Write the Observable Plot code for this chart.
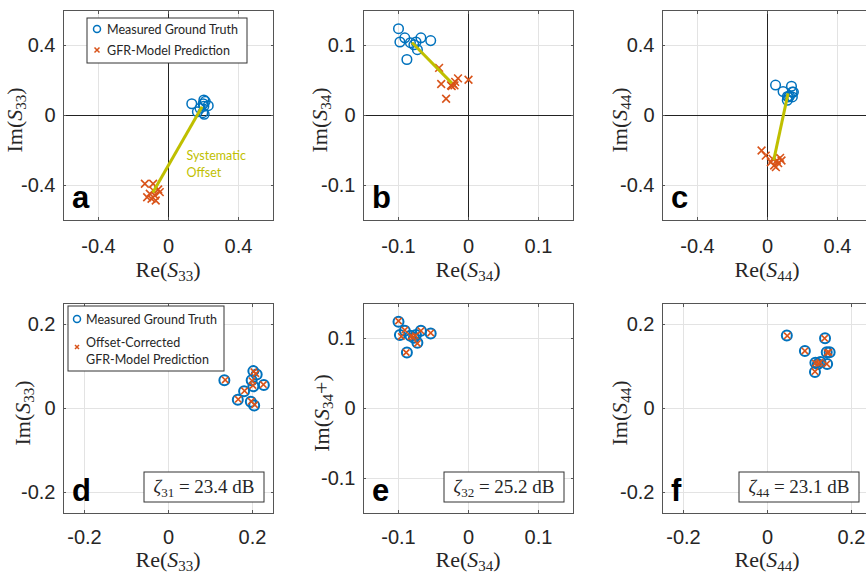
<!DOCTYPE html>
<html><head><meta charset="utf-8">
<script src="https://cdn.jsdelivr.net/npm/d3@7"></script>
<script src="https://cdn.jsdelivr.net/npm/@observablehq/plot@0.6"></script>
<style>
body{margin:0;background:#fff;overflow:hidden}
#fig{position:relative;width:866px;height:575px;overflow:hidden;background:#fff}
#fig svg{position:absolute;overflow:visible}
</style></head><body><div id="fig"></div>
<script>
// ---------- data ----------
// S33
const s33MeasRe = [0.133, 0.202, 0.210, 0.198, 0.202, 0.227, 0.180, 0.165, 0.196, 0.204];
const s33MeasIm = [0.067, 0.089, 0.081, 0.067, 0.053, 0.056, 0.041, 0.021, 0.016, 0.007];
const s33PredRe = [-0.135, -0.088, -0.059, -0.107, -0.078, -0.097, -0.050, -0.073, -0.122, -0.086];
const s33PredIm = [-0.390, -0.390, -0.423, -0.447, -0.457, -0.476, -0.438, -0.486, -0.467, -0.429];
const s33CorrRe = [0.135, 0.203, 0.208, 0.199, 0.201, 0.226, 0.181, 0.166, 0.197, 0.205];
const s33CorrIm = [0.068, 0.088, 0.083, 0.066, 0.055, 0.057, 0.042, 0.022, 0.017, 0.009];
// S34
const s34MeasRe = [-0.100, -0.098, -0.091, -0.083, -0.078, -0.073, -0.075, -0.068, -0.054, -0.088];
const s34MeasIm = [0.124, 0.105, 0.111, 0.104, 0.101, 0.094, 0.105, 0.111, 0.107, 0.080];
const s34PredRe = [-0.042, -0.039, -0.032, -0.025, -0.022, -0.019, -0.015, 0.000, -0.024, -0.020];
const s34PredIm = [0.068, 0.045, 0.024, 0.043, 0.045, 0.048, 0.053, 0.051, 0.042, 0.043];
const s34CorrRe = [-0.100, -0.096, -0.091, -0.082, -0.079, -0.073, -0.076, -0.068, -0.054, -0.089];
const s34CorrIm = [0.125, 0.103, 0.112, 0.103, 0.102, 0.093, 0.104, 0.111, 0.108, 0.080];
// S44
const s44MeasRe = [0.046, 0.137, 0.089, 0.141, 0.148, 0.114, 0.126, 0.142, 0.113, 0.120];
const s44MeasIm = [0.174, 0.167, 0.137, 0.134, 0.134, 0.109, 0.111, 0.106, 0.087, 0.106];
const s44PredRe = [-0.034, -0.010, 0.029, 0.038, 0.053, 0.072, 0.048, 0.061, 0.019, 0.080];
const s44PredIm = [-0.200, -0.229, -0.248, -0.286, -0.257, -0.242, -0.295, -0.272, -0.267, -0.257];
const s44CorrRe = [0.047, 0.136, 0.089, 0.142, 0.146, 0.114, 0.125, 0.141, 0.113, 0.121];
const s44CorrIm = [0.173, 0.167, 0.137, 0.133, 0.134, 0.108, 0.110, 0.106, 0.088, 0.107];

const topTicksWide = [-0.4, 0, 0.4];
const ticksNarrow = [-0.1, 0, 0.1];
const bottomTicksWide = [-0.2, 0, 0.2];
const zetaSubs = ["31", "32", "44"];
const zetaValues = ["23.4", "25.2", "23.1"];
const legendTop = ["Measured Ground Truth", "GFR-Model Prediction"];
const legendBottom = ["Measured Ground Truth", "Offset-Corrected", "GFR-Model Prediction"];
const offsetLabel = [{re: 0.103, im: -0.19, text: "Systematic\nOffset"}];

// ---------- styling ----------
const blue = "#0072BD", orange = "#D95319", olive = "#BFBF00";
const frameColor = "#555", gridColor = "#e3e3e3", textColor = "#262626";
const zip = (re, im) => re.map((r, i) => ({re: r, im: im[i]}));
const fmt = d => d === 0 ? "0" : String(d);

const panels = [
  {letter: "a", col: 0, row: 0, half: 0.6, ticks: topTicksWide, meas: zip(s33MeasRe, s33MeasIm), pred: zip(s33PredRe, s33PredIm), xl: ["Re(", "33", ")"], yl: ["Im(", "33", ")"], yOff: 41, legend: true, note: true},
  {letter: "b", col: 1, row: 0, half: 0.15, ticks: ticksNarrow, meas: zip(s34MeasRe, s34MeasIm), pred: zip(s34PredRe, s34PredIm), xl: ["Re(", "34", ")"], yl: ["Im(", "34", ")"], yOff: 36},
  {letter: "c", col: 2, row: 0, half: 0.6, ticks: topTicksWide, meas: zip(s44MeasRe, s44MeasIm), pred: zip(s44PredRe, s44PredIm), xl: ["Re(", "44", ")"], yl: ["Im(", "44", ")"], yOff: 35},
  {letter: "d", col: 0, row: 1, half: 0.25, ticks: bottomTicksWide, meas: zip(s33MeasRe, s33MeasIm), pred: zip(s33CorrRe, s33CorrIm), xl: ["Re(", "33", ")"], yl: ["Im(", "33", ")"], yOff: 33, legend: true, zeta: 0, boxR: 9},
  {letter: "e", col: 1, row: 1, half: 0.15, ticks: ticksNarrow, meas: zip(s34MeasRe, s34MeasIm), pred: zip(s34CorrRe, s34CorrIm), xl: ["Re(", "34", ")"], yl: ["Im(", "34", "+)"], yOff: 34, zeta: 1, boxR: 9},
  {letter: "f", col: 2, row: 1, half: 0.25, ticks: bottomTicksWide, meas: zip(s44MeasRe, s44MeasIm), pred: zip(s44CorrRe, s44CorrIm), xl: ["Re(", "44", ")"], yl: ["Im(", "44", ")"], yOff: 35, zeta: 2, boxR: 13}
];

const fig = d3.select("#fig");
const ML = 63, PW = 210;

function addMathLabel(g, parts, fontSize) {
  const sub = Math.round(fontSize * 0.68);
  g.append("tspan").text(parts[0]);
  g.append("tspan").attr("font-style", "italic").text("S");
  g.append("tspan").attr("font-size", sub).attr("dy", fontSize * 0.2).text(parts[1]);
  g.append("tspan").attr("dy", -fontSize * 0.2).text(parts[2]);
}

for (const p of panels) {
  const top = p.row === 0;
  const mt = top ? 10 : 13, mb = top ? 70 : 62;
  const H = mt + PW + mb;
  const dom = [-p.half, p.half];
  const marks = [
    Plot.gridX(p.ticks, {stroke: gridColor, strokeOpacity: 1}),
    Plot.gridY(p.ticks, {stroke: gridColor, strokeOpacity: 1})
  ];
  if (top) marks.push(Plot.ruleX([0], {stroke: "#222", strokeWidth: 1}), Plot.ruleY([0], {stroke: "#222", strokeWidth: 1}));
  marks.push(
    Plot.frame({stroke: frameColor}),
    Plot.axisX(p.ticks, {tickSize: 0, tickPadding: top ? 18 : 16, tickFormat: fmt, label: null}),
    Plot.axisY(p.ticks, {tickSize: 0, tickPadding: 8, tickFormat: fmt, label: null}),
    Plot.axisX(p.ticks, {anchor: "bottom", tickSize: -3, tickFormat: () => "", label: null, stroke: frameColor}),
    Plot.axisX(p.ticks, {anchor: "top", tickSize: -3, tickFormat: () => "", label: null, stroke: frameColor}),
    Plot.axisY(p.ticks, {anchor: "left", tickSize: -3, tickFormat: () => "", label: null, stroke: frameColor}),
    Plot.axisY(p.ticks, {anchor: "right", tickSize: -3, tickFormat: () => "", label: null, stroke: frameColor})
  );
  if (top) {
    const link = [{
      x1: d3.mean(p.meas, d => d.re), y1: d3.mean(p.meas, d => d.im),
      x2: d3.mean(p.pred, d => d.re), y2: d3.mean(p.pred, d => d.im)
    }];
    marks.push(
      Plot.dot(p.meas, {x: "re", y: "im", r: 4.8, stroke: blue, strokeWidth: 1.5, fill: "none"}),
      Plot.dot(p.pred, {x: "re", y: "im", symbol: "times", r: 3.6, stroke: orange, strokeWidth: 1.6}),
      Plot.link(link, {x1: "x1", y1: "y1", x2: "x2", y2: "y2", stroke: olive, strokeWidth: 3})
    );
    if (p.note) marks.push(Plot.text(offsetLabel, {x: "re", y: "im", text: "text", fill: olive, textAnchor: "start", lineAnchor: "top", lineHeight: 1.3, fontSize: 12.5, fontFamily: "Lato"}));
  } else {
    marks.push(
      Plot.dot(p.meas, {x: "re", y: "im", r: 5, stroke: blue, strokeWidth: 2, fill: "none"}),
      Plot.dot(p.pred, {x: "re", y: "im", symbol: "times", r: 3, stroke: orange, strokeWidth: 1.6})
    );
  }
  const svg = Plot.plot({
    width: 300, height: H,
    marginLeft: ML, marginRight: 300 - ML - PW, marginTop: mt, marginBottom: mb,
    x: {domain: dom}, y: {domain: dom},
    style: {fontFamily: "Liberation Sans, Arial, sans-serif", fontSize: "20px", color: textColor, background: "transparent", overflow: "visible"},
    marks
  });
  const left = p.col * 299.5;
  const topPx = top ? 0 : 290;
  svg.style.left = left + "px";
  svg.style.top = topPx + "px";
  fig.node().appendChild(svg);
  const s = d3.select(svg);
  const serif = "Liberation Serif, DejaVu Serif, serif";
  // x label
  const xt = s.append("text").attr("x", ML + PW / 2).attr("y", mt + PW + (top ? 57 : 54))
    .attr("text-anchor", "middle").attr("font-family", serif).attr("font-size", 22).attr("fill", textColor);
  addMathLabel(xt, p.xl, 22);
  // y label
  const yt = s.append("text").attr("transform", `translate(${ML - p.yOff},${mt + PW / 2 + 5}) rotate(-90)`)
    .attr("text-anchor", "middle").attr("font-family", serif).attr("font-size", 22).attr("fill", textColor);
  addMathLabel(yt, p.yl, 22);
  // panel letter
  s.append("text").attr("x", ML + 9).attr("y", mt + PW - 12).attr("text-anchor", "start").attr("font-family", "Liberation Sans, Arial, sans-serif")
    .attr("font-weight", "bold").attr("font-size", 31).attr("fill", "#000").text(p.letter);
  // legends
  if (p.legend) {
    const lg = s.append("g").attr("font-family", "Lato, sans-serif").attr("font-size", 12.5).attr("fill", textColor).attr("text-anchor", "start");
    if (top) {
      lg.append("rect").attr("x", 87).attr("y", 18).attr("width", 160).attr("height", 45).attr("fill", "#fff").attr("stroke", "#333");
      lg.append("circle").attr("cx", 97).attr("cy", 29).attr("r", 3.5).attr("fill", "none").attr("stroke", blue).attr("stroke-width", 1.5);
      lg.append("path").attr("d", "M94.5,47.5l5,5M99.5,47.5l-5,5").attr("stroke", orange).attr("stroke-width", 1.5);
      lg.append("text").attr("x", 107).attr("y", 33.5).text(legendTop[0]);
      lg.append("text").attr("x", 107).attr("y", 54.5).text(legendTop[1]);
    } else {
      lg.append("rect").attr("x", 68).attr("y", 16).attr("width", 156).attr("height", 65).attr("fill", "#fff").attr("stroke", "#333");
      lg.append("circle").attr("cx", 77).attr("cy", 29).attr("r", 3.5).attr("fill", "none").attr("stroke", blue).attr("stroke-width", 1.5);
      lg.append("path").attr("d", "M75,55l4,4M79,55l-4,4").attr("stroke", orange).attr("stroke-width", 1.5);
      lg.append("text").attr("x", 86).attr("y", 33.5).text(legendBottom[0]);
      lg.append("text").attr("x", 86).attr("y", 56.5).text(legendBottom[1]);
      lg.append("text").attr("x", 86).attr("y", 73.5).text(legendBottom[2]);
    }
  }
  if (p.zeta !== undefined) {
    const bx = ML + PW - p.boxR - 120, by = mt + PW - 11 - 30;
    s.append("rect").attr("x", bx).attr("y", by).attr("width", 120).attr("height", 30).attr("fill", "#fff").attr("stroke", "#333");
    const zt = s.append("text").attr("x", bx + 60).attr("y", by + 21).attr("text-anchor", "middle")
      .attr("font-family", serif).attr("font-size", 19).attr("fill", textColor);
    zt.append("tspan").attr("font-style", "italic").text("ζ");
    zt.append("tspan").attr("font-size", 13).attr("dy", 4).text(zetaSubs[p.zeta]);
    zt.append("tspan").attr("dy", -4).text(" = " + zetaValues[p.zeta] + " dB");
  }
}
</script></body></html>
